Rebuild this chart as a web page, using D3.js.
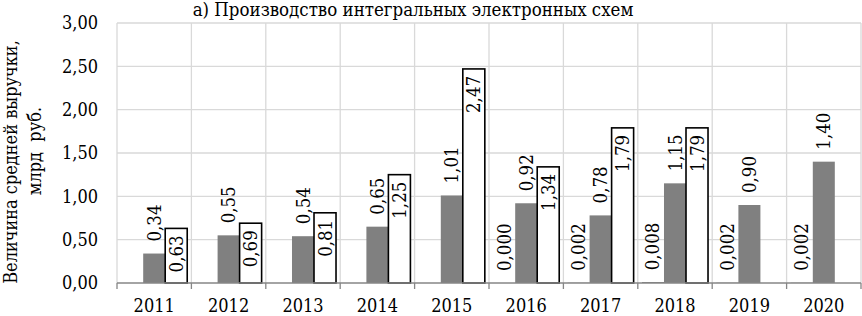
<!DOCTYPE html>
<html>
<head>
<meta charset="utf-8">
<script src="https://cdn.jsdelivr.net/npm/d3@7"></script>
<style>
  body { margin: 0; background: #fff; }
  .chart-svg { font-family: "DejaVu Serif", serif; font-stretch: condensed; }
  .chart-svg text { white-space: pre; }
</style>
</head>
<body>
<div id="chart"></div>
<script>
// chart data
const years = ["2011", "2012", "2013", "2014", "2015", "2016", "2017", "2018", "2019", "2020"];
const series1 = [null, null, null, null, null, 0.000, 0.002, 0.008, 0.002, 0.002];
const series2 = [0.34, 0.55, 0.54, 0.65, 1.01, 0.92, 0.78, 1.15, 0.90, 1.40];
const series3 = [0.63, 0.69, 0.81, 1.25, 2.47, 1.34, 1.79, 1.79, null, null];
const yTicks = [0, 0.5, 1, 1.5, 2, 2.5, 3];
const title = "а) Производство интегральных электронных схем";
const yTitle = ["Величина средней выручки,", "млрд  руб."];

const width = 862, height = 316;
const margin = { top: 23, right: 1, bottom: 33, left: 117 };

const svg = d3.select("#chart").append("svg")
    .attr("class", "chart-svg")
    .attr("width", width)
    .attr("height", height);

const x = d3.scaleBand()
    .domain(years)
    .range([margin.left, width - margin.right]);

const x1 = d3.scaleBand()
    .domain(["s1", "s2", "s3"])
    .range([0, x.bandwidth()])
    .paddingOuter(0.19);

const y = d3.scaleLinear()
    .domain([0, 3])
    .range([height - margin.bottom, margin.top]);

const fmt = (v, d) => v.toFixed(d).replace(".", ",");

// grid
svg.append("g")
    .selectAll("line")
    .data(yTicks.filter(d => d > 0))
    .join("line")
    .attr("x1", margin.left).attr("x2", width - margin.right)
    .attr("y1", d => y(d)).attr("y2", d => y(d))
    .attr("stroke", "#d9d9d9").attr("stroke-width", 1.3);

const bounds = years.map(d => x(d)).concat([width - margin.right]);
svg.append("g")
    .selectAll("line")
    .data(bounds)
    .join("line")
    .attr("x1", d => d).attr("x2", d => d)
    .attr("y1", margin.top).attr("y2", y(0))
    .attr("stroke", "#d9d9d9").attr("stroke-width", 1.3);

// y tick labels
svg.append("g")
    .selectAll("text")
    .data(yTicks)
    .join("text")
    .attr("x", 98)
    .attr("y", d => y(d))
    .attr("dy", "0.35em")
    .attr("text-anchor", "end")
    .attr("font-size", 18)
    .text(d => fmt(d, 2));

// bars
const rows = years.map((yr, i) => ({ yr, s1: series1[i], s2: series2[i], s3: series3[i] }));

function bars(key, fill, stroke) {
    svg.append("g")
        .selectAll("rect")
        .data(rows.filter(r => r[key] != null))
        .join("rect")
        .attr("x", r => x(r.yr) + x1(key))
        .attr("width", x1.bandwidth())
        .attr("y", r => y(r[key]))
        .attr("height", r => y(0) - y(r[key]))
        .attr("fill", fill)
        .attr("stroke", stroke)
        .attr("stroke-width", stroke === "none" ? 0 : 1.6);
}
bars("s1", "#404040", "none");
bars("s2", "#808080", "none");
bars("s3", "#ffffff", "#000000");

// data labels (rotated)
function labels(key, digits, inside) {
    svg.append("g")
        .selectAll("text")
        .data(rows.filter(r => r[key] != null))
        .join("text")
        .attr("transform", r => {
            const cx = x(r.yr) + x1(key) + x1.bandwidth() / 2;
            const top = y(r[key]);
            const ty = inside ? top + 7 : top - 12;
            return `translate(${cx},${ty}) rotate(-90)`;
        })
        .attr("dominant-baseline", "central")
        .attr("text-anchor", inside ? "end" : "start")
        .attr("font-size", 18.5)
        .text(r => fmt(r[key], digits));
}
labels("s1", 3, false);
labels("s2", 2, false);
labels("s3", 2, true);

// x axis
svg.append("line")
    .attr("x1", margin.left).attr("x2", width - margin.right)
    .attr("y1", y(0)).attr("y2", y(0))
    .attr("stroke", "#868686").attr("stroke-width", 1.3);
svg.append("g")
    .selectAll("line")
    .data(bounds)
    .join("line")
    .attr("x1", d => d).attr("x2", d => d)
    .attr("y1", y(0)).attr("y2", y(0) + 6)
    .attr("stroke", "#868686").attr("stroke-width", 1.3);
svg.append("g")
    .selectAll("text")
    .data(years)
    .join("text")
    .attr("x", d => x(d) + x.bandwidth() / 2)
    .attr("y", 312)
    .attr("text-anchor", "middle")
    .attr("font-size", 18)
    .text(d => d);

// titles
svg.append("text")
    .attr("x", 413)
    .attr("y", 16)
    .attr("text-anchor", "middle")
    .attr("font-size", 18.5)
    .text(title);

svg.append("g")
    .selectAll("text")
    .data(yTitle)
    .join("text")
    .attr("transform", (d, i) => `translate(${i === 0 ? 10 : 34},${i === 0 ? 162 : 151}) rotate(-90)`)
    .attr("dominant-baseline", "central")
    .attr("text-anchor", "middle")
    .attr("font-size", 18)
    .text(d => d);
</script>
</body>
</html>
